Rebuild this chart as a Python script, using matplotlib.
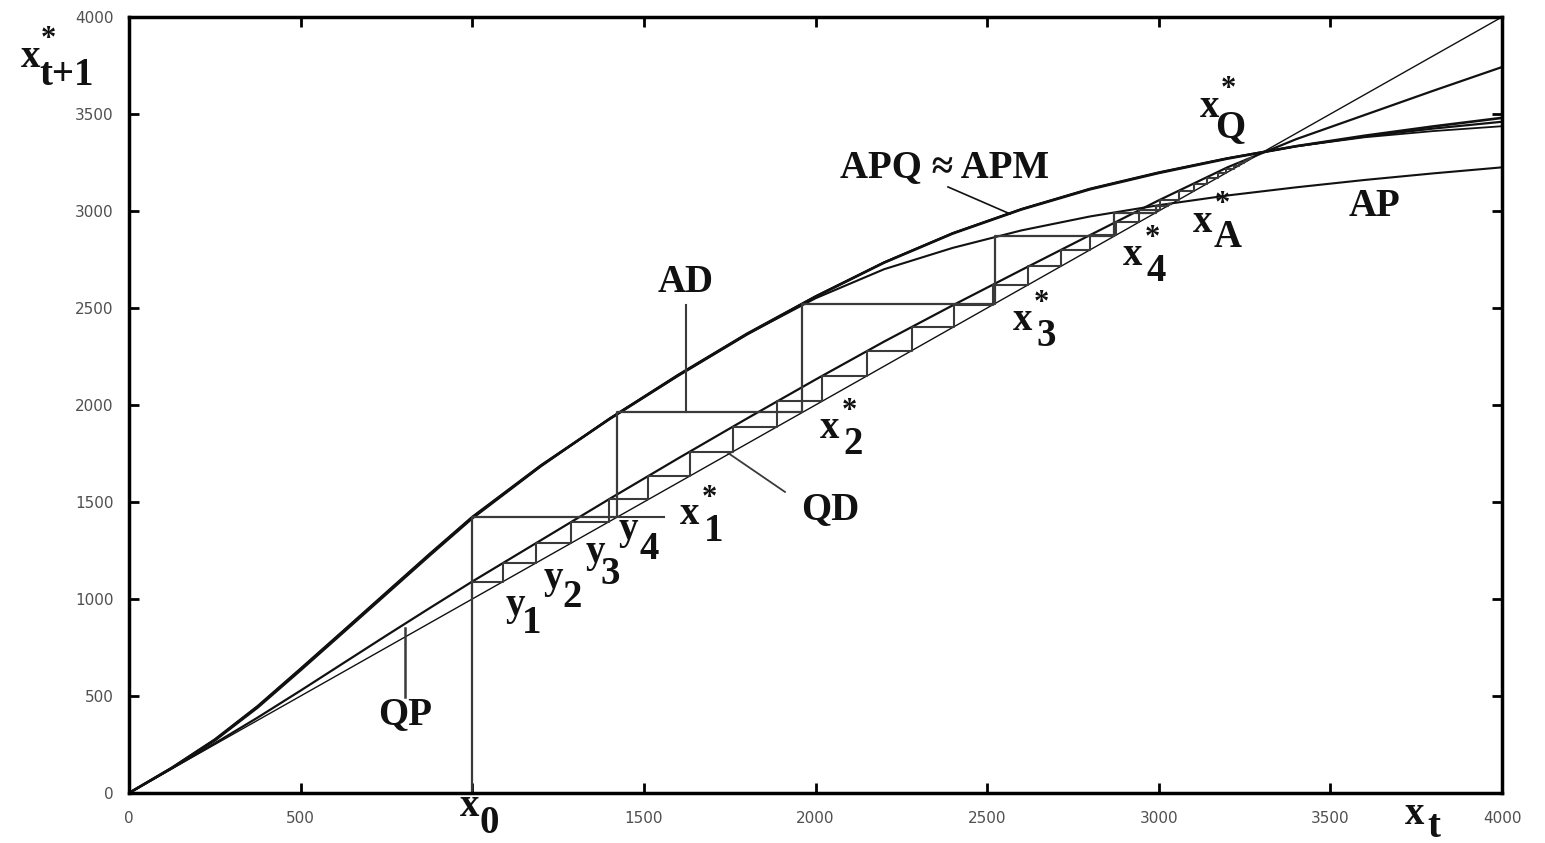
import matplotlib.pyplot as plt

x_grid = [0, 125, 250, 375, 500, 625, 750, 875, 1000, 1200, 1400, 1600, 1800, 2000,
          2200, 2400, 2600, 2800, 3000, 3200, 3400, 3600, 3800, 4000]

# upper band "APQ ~ APM" (three nearly overlapping curves)
apq_y = [0, 130, 275, 447, 640, 836, 1033, 1230, 1422, 1688, 1928, 2152, 2364, 2558,
         2734, 2884, 3008, 3112, 3196, 3270, 3334, 3388, 3436, 3480]
apm_y = [0, 128, 270, 440, 632, 828, 1025, 1222, 1415, 1684, 1930, 2156, 2368, 2560,
         2735, 2886, 3010, 3115, 3199, 3272, 3334, 3384, 3425, 3460]
band3_y = [0, 129, 272, 444, 636, 832, 1029, 1226, 1418, 1686, 1929, 2154, 2366, 2559,
           2735, 2885, 3009, 3113, 3197, 3271, 3333, 3380, 3412, 3437]

# AP curve, leaves the band after 2000 and levels off
ap_y = [0, 130, 275, 447, 640, 836, 1033, 1230, 1422, 1688, 1928, 2152, 2364, 2550,
        2700, 2810, 2900, 2972, 3030, 3080, 3122, 3160, 3194, 3225]

# QP curve, just above the diagonal
qp_y = [0, 127, 256, 389, 528, 670, 812, 952, 1090, 1303, 1516, 1725, 1930, 2131,
        2327, 2514, 2696, 2876, 3055, 3225, 3370, 3495, 3620, 3742]

# iterates of the two staircases
ad_iter = [1000, 1422, 1962, 2522, 2869, 2992, 3028, 3037]
qd_iter = [1000, 1090, 1186, 1288, 1397, 1513, 1634, 1760, 1889, 2020, 2151, 2280, 2403,
           2517, 2620, 2714, 2799, 2875, 2943, 3004, 3058, 3102, 3141, 3172, 3197, 3218,
           3234, 3247, 3258, 3266, 3273]

ticks = [0, 500, 1000, 1500, 2000, 2500, 3000, 3500, 4000]
x_tick_labels = ['0', '500', '', '1500', '2000', '2500', '3000', '3500', '4000']
y_tick_labels = ['0', '500', '1000', '1500', '2000', '2500', '3000', '3500', '4000']


def stair(it, y_start):
    xs, ys = [it[0]], [y_start]
    for a, b in zip(it[:-1], it[1:]):
        xs += [a, b]
        ys += [b, b]
    return xs, ys


fig = plt.figure(figsize=(15.45, 8.43), dpi=100)
ax = fig.add_axes([129 / 1545, 1 - 793 / 843, (1502 - 129) / 1545, (793 - 17) / 843])

black = '#111111'
grey = '#3a3a3a'

# diagonal x_{t+1} = x_t
ax.plot([0, 4000], [0, 4000], color=black, lw=1.0)

ax.plot(x_grid, qp_y, color=black, lw=1.6)
ax.plot(x_grid, ap_y, color=black, lw=1.5)
ax.plot(x_grid, band3_y, color=black, lw=1.3)
ax.plot(x_grid, apm_y, color=black, lw=1.6)
ax.plot(x_grid, apq_y, color=black, lw=1.9)

# staircases
sx, sy = stair(qd_iter, qd_iter[0])
ax.plot(sx, sy, color=grey, lw=1.5)
sx, sy = stair(ad_iter, 0)
ax.plot(sx, sy, color=grey, lw=1.6)

# leader lines
ax.plot([1422, 1560], [1422, 1422], color=grey, lw=1.5)
ax.plot([1623, 1623], [1962, 2515], color=grey, lw=1.5)
ax.plot([804, 804], [495, 850], color=grey, lw=1.8)
ax.plot([1745, 1911], [1753, 1552], color=grey, lw=1.3)
ax.plot([2386, 2567], [3124, 2985], color=black, lw=1.2)

ax.set_xlim(0, 4000)
ax.set_ylim(0, 4000)
ax.set_xticks(ticks)
ax.set_xticklabels(x_tick_labels)
ax.set_yticks(ticks)
ax.set_yticklabels(y_tick_labels)
ax.tick_params(direction='in', length=7, width=2, top=True, right=True,
               labelsize=11, labelcolor='#505050')
ax.tick_params(axis='x', pad=13)
ax.tick_params(axis='y', pad=11)
for s in ax.spines.values():
    s.set_linewidth(2.5)

serif = 'Liberation Serif'
big = 28
star_size = 22


def label(x, y, base, sub=None, star=False, sub_off=(17, -12), star_off=(14, 12)):
    ax.text(x, y, base, family=serif, weight='bold', fontsize=big,
            ha='center', va='center', color=black)
    if star:
        ax.annotate('*', (x, y), xytext=star_off, textcoords='offset points',
                    family=serif, weight='bold', fontsize=star_size,
                    ha='center', va='center', color=black, annotation_clip=False)
    if sub is not None:
        ax.annotate(sub, (x, y), xytext=sub_off, textcoords='offset points',
                    family=serif, weight='bold', fontsize=big,
                    ha='left' if len(sub) > 1 else 'center', va='center', color=black,
                    annotation_clip=False)


label(-288, 3790, 'x', 't+1', star=True, sub_off=(7, -13), star_off=(13, 13))
label(3149, 3531, 'x', 'Q', star=True, sub_off=(15, -14), star_off=(13, 13))
label(3129, 2943, 'x', 'A', star=True, sub_off=(18, -11), star_off=(14, 13))
label(2925, 2773, 'x', '4', star=True)
label(2602, 2438, 'x', '3', star=True)
label(2042, 1881, 'x', '2', star=True)
label(1634, 1433, 'x', '1', star=True)
label(1125, 969, 'y', '1', sub_off=(12, -13))
label(1235, 1108, 'y', '2', sub_off=(14, -14))
label(1358, 1242, 'y', '3', sub_off=(11, -16))
label(1454, 1356, 'y', '4', sub_off=(15, -14))
label(993, -72, 'x', '0', sub_off=(14, -12))
label(3746, -113, 'x', 't', sub_off=(14, -9))

for txt, x, y in [('AD', 1623, 2629), ('QP', 804, 402), ('QD', 2042, 1459),
                  ('APQ \u2248 APM', 2377, 3222), ('AP', 3630, 3021)]:
    ax.text(x, y, txt, family=serif, weight='bold', fontsize=big,
            ha='center', va='center', color=black)

fig.savefig('out.png', dpi=100)
